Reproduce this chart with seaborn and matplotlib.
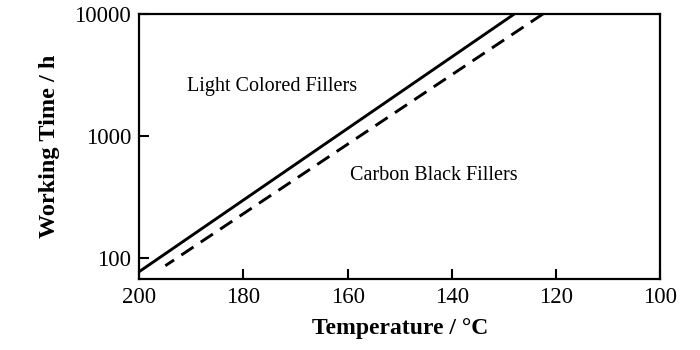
import matplotlib
matplotlib.use("Agg")
import matplotlib.pyplot as plt
import seaborn as sns
import pandas as pd

# Working time vs. temperature for two filler types
light_temp = [200, 128]
light_hours = [77, 10000]
carbon_temp = [195, 122.5]
carbon_hours = [86, 10000]

x_ticks = [200, 180, 160, 140, 120, 100]
y_ticks = [100, 1000, 10000]

sns.set_style("ticks")
plt.rcParams["font.family"] = ["Liberation Serif", "DejaVu Serif"]
for key in ("text.color", "axes.labelcolor", "xtick.color", "ytick.color", "axes.edgecolor"):
    plt.rcParams[key] = "black"

df = pd.concat([
    pd.DataFrame({"T": light_temp, "h": light_hours, "kind": "Light Colored Fillers"}),
    pd.DataFrame({"T": carbon_temp, "h": carbon_hours, "kind": "Carbon Black Fillers"}),
])

fig = plt.figure(figsize=(7, 3.5), dpi=100)
ax = fig.add_axes([0.199, 0.203, 0.744, 0.757])

sns.lineplot(data=df[df.kind == "Light Colored Fillers"], x="T", y="h", ax=ax,
             color="black", linewidth=2.1, legend=False)
sns.lineplot(data=df[df.kind == "Carbon Black Fillers"], x="T", y="h", ax=ax,
             color="black", linewidth=2.1, legend=False)
ax.lines[1].set_linestyle((0, (5, 3)))

ax.set_yscale("log")
ax.set_xlim(200, 100)
ax.set_ylim(67, 10000)
ax.set_xticks(x_ticks)
ax.set_xticklabels([str(v) for v in x_ticks])
ax.set_yticks(y_ticks)
ax.set_yticklabels([str(v) for v in y_ticks])
ax.minorticks_off()

ax.tick_params(axis="both", direction="in", length=7, width=1.5,
               labelsize=16.5, pad=6, top=False, right=False, colors="black")
for s in ax.spines.values():
    s.set_visible(True)
    s.set_linewidth(1.6)
    s.set_color("black")

ax.set_xlabel("Temperature / °C", fontsize=17, fontweight="bold", labelpad=7)
ax.set_ylabel("Working Time / h", fontsize=17.5, fontweight="bold", labelpad=10)

ax.text(174.6, 2540, "Light Colored Fillers", fontsize=14.5, ha="center", va="center")
ax.text(143.5, 476, "Carbon Black Fillers", fontsize=14.5, ha="center", va="center")

fig.savefig("out.png", dpi=100, facecolor="white")
